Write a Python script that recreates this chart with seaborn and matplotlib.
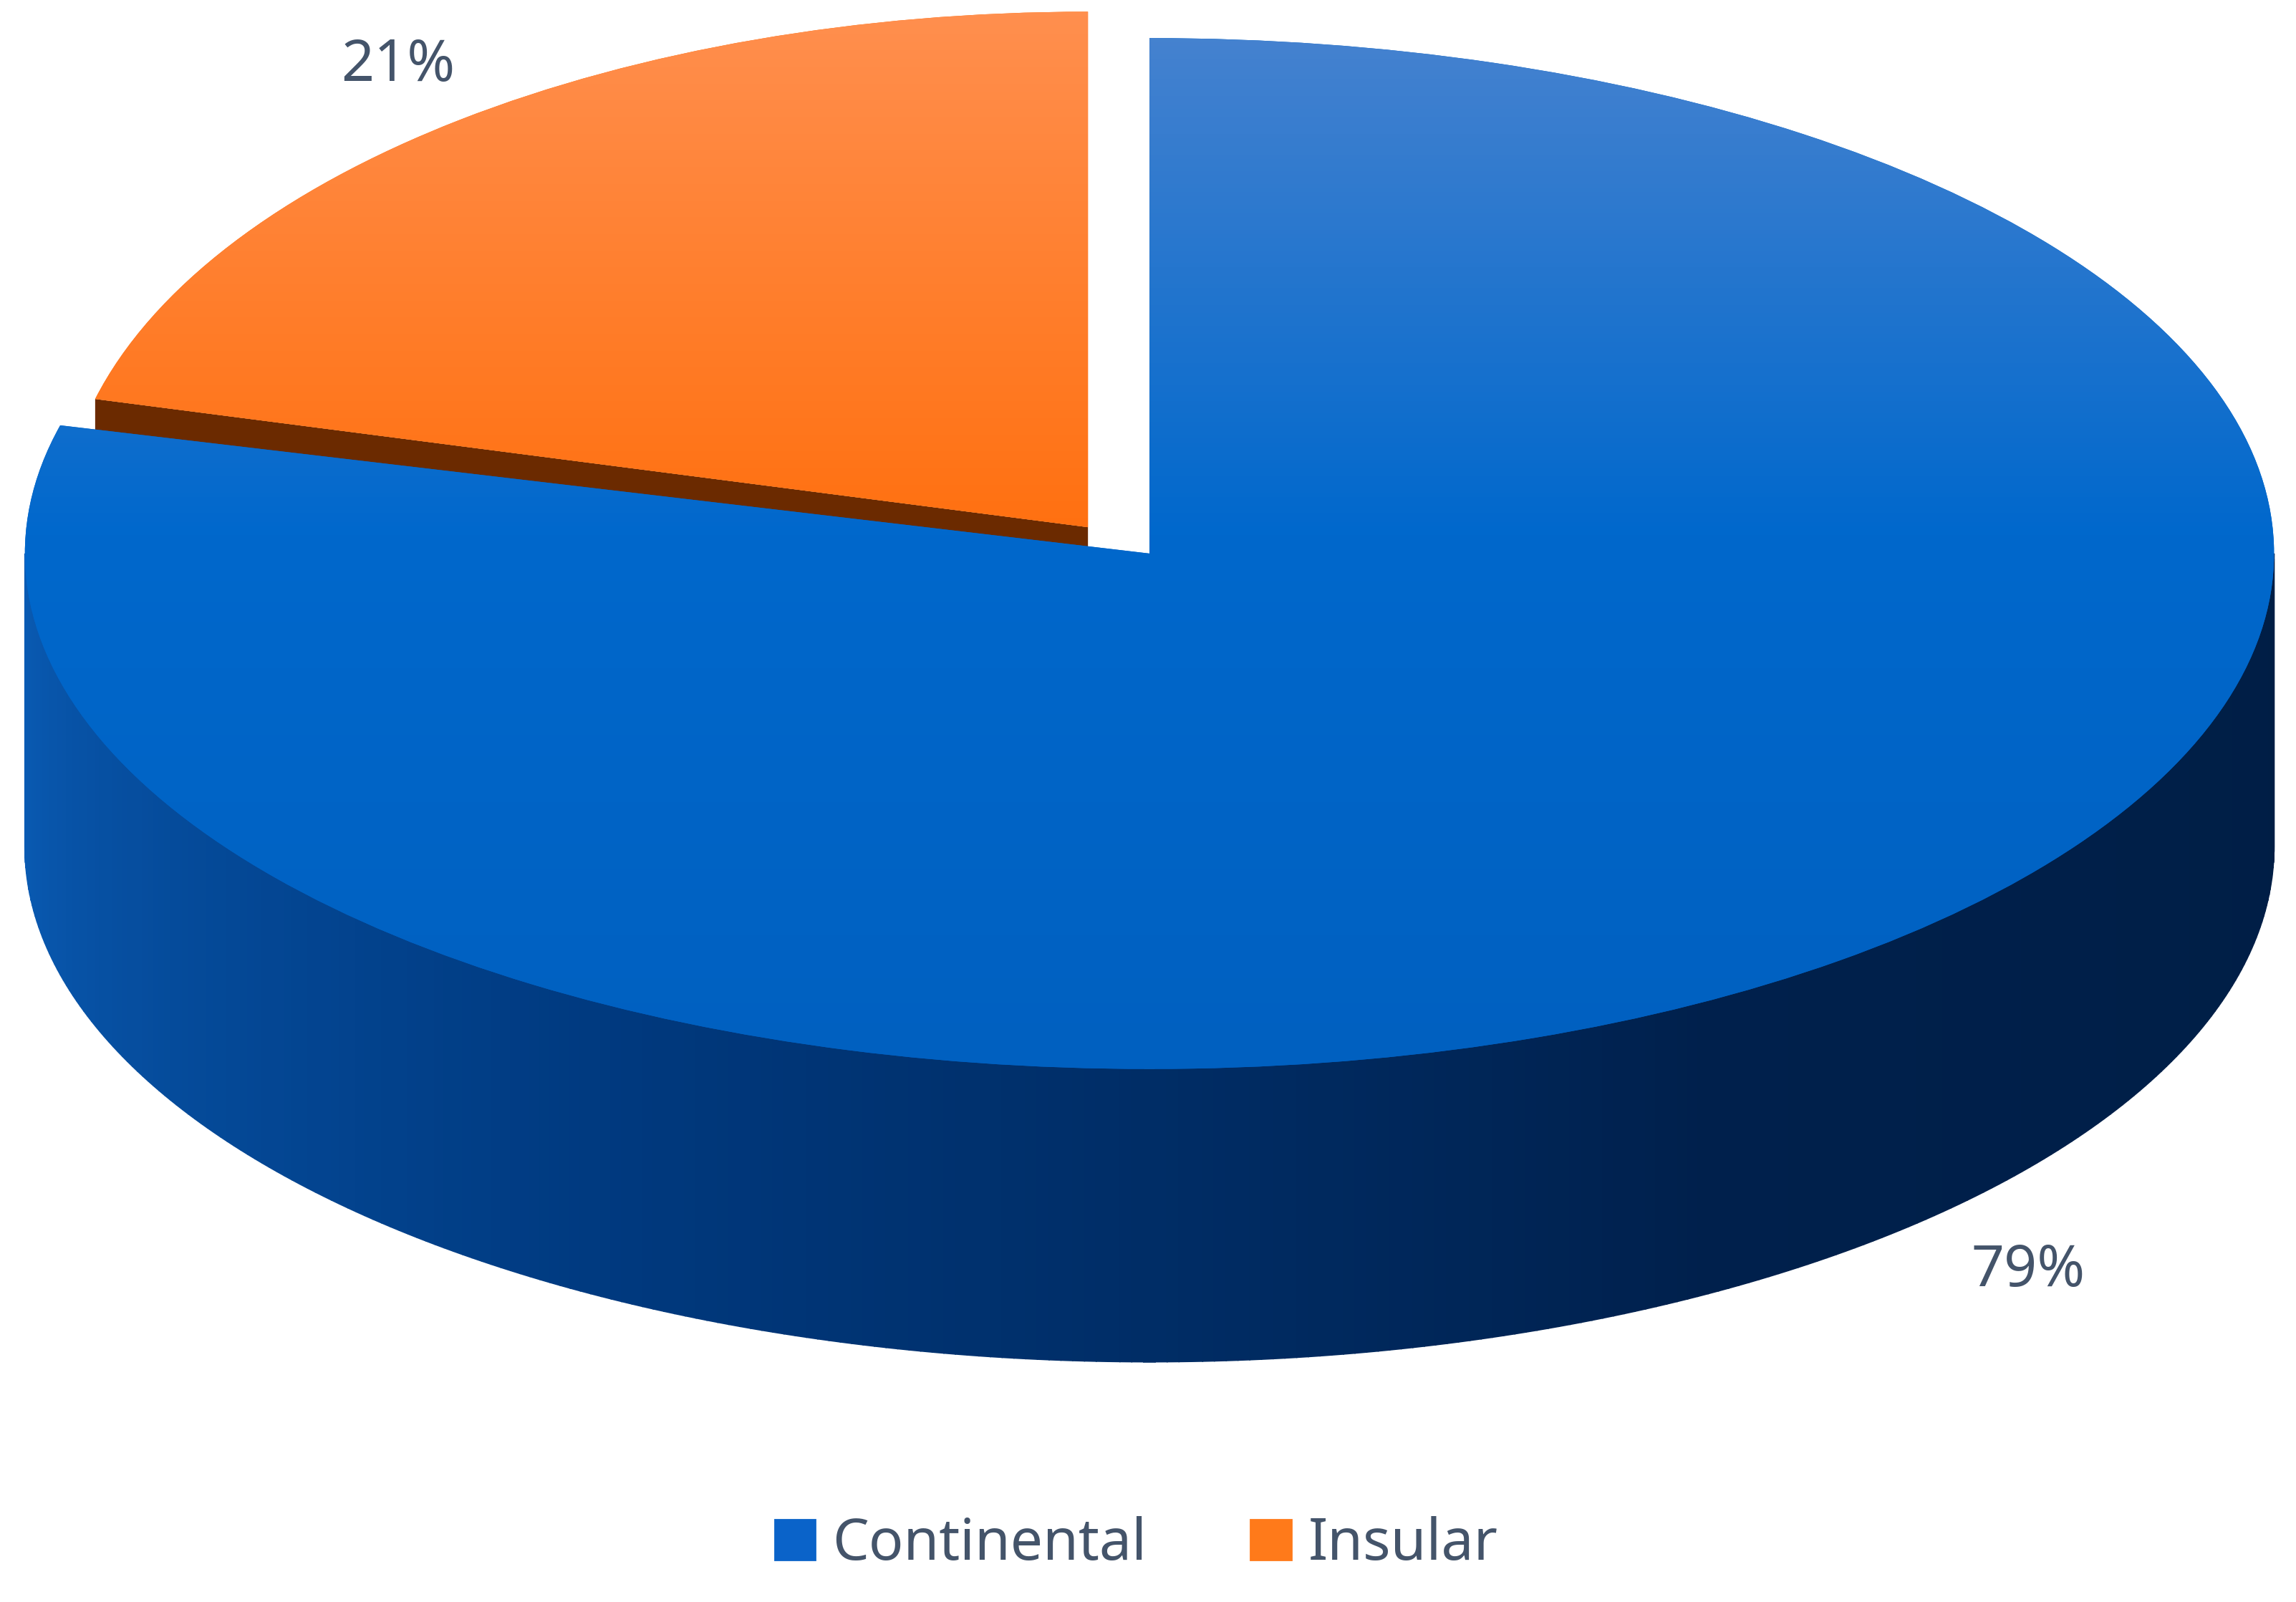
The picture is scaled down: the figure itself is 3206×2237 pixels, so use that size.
import numpy as np
import matplotlib
matplotlib.use("Agg")
import matplotlib.pyplot as plt
import seaborn as sns
from matplotlib.transforms import Affine2D
from matplotlib.patches import Patch, Polygon
from matplotlib.colors import LinearSegmentedColormap

sns.set_theme(style="white")
plt.rcParams['font.family'] = ['Noto Sans', 'DejaVu Sans']

categories = ["Continental", "Insular"]
values = [79, 21]
labels = ["79%", "21%"]

W, H = 1568, 1094
fig = plt.figure(figsize=(16.03, 11.185), dpi=200)
ax = fig.add_axes([0, 0, 1, 1])

cx, cy, rx, ry, depth = 785, H - 378, 768, 352, 200
expl = (-42, 18)
frac = np.array(values) / sum(values)
a_orange_end = 90 + 360 * frac[1]

cmap_side = LinearSegmentedColormap.from_list("s", ["#0a5cb5", "#003a80", "#00204c", "#001e45"])
ts = np.linspace(np.pi, 2 * np.pi, 300)
for i in range(len(ts) - 1):
    t0, t1 = ts[i], ts[i + 1]
    xs = [cx + rx * np.cos(t0), cx + rx * np.cos(t1), cx + rx * np.cos(t1), cx + rx * np.cos(t0)]
    ys = [cy + ry * np.sin(t0), cy + ry * np.sin(t1), cy + ry * np.sin(t1) - depth, cy + ry * np.sin(t0) - depth]
    c = cmap_side(i / (len(ts) - 2))
    ax.add_patch(Polygon(list(zip(xs, ys)), closed=True, fc=c, ec=c, lw=0.6, zorder=1))

ta = np.deg2rad(a_orange_end)
orx = 700
ox, oy = cx + expl[0], cy + expl[1]
p1 = (ox, oy); p2 = (ox + orx * np.cos(ta), oy + ry * np.sin(ta))
ax.add_patch(Polygon([p1, p2, (p2[0], p2[1] - 30), (p1[0], p1[1] - 22)], fc="#6b2a00", ec="none", zorder=1.5))

tr_blue = Affine2D().scale(rx, ry).translate(cx, cy) + ax.transData
tr_or = Affine2D().scale(orx, ry).translate(ox, oy) + ax.transData
wedges, _ = ax.pie(values, startangle=90, counterclock=False, radius=1, center=(0, 0),
                   colors=["#0063c6", "#ff6a00"], wedgeprops=dict(lw=0))
ax.set_aspect("auto"); ax.axis("off")
wedges[0].set_transform(tr_blue); wedges[1].set_transform(tr_or)

grads = [["#0060c0", "#0068cc", "#4a84d0"], ["#ff6600", "#ff7010", "#ff9050"]]
for w, g in zip(wedges, grads):
    w.set_zorder(2)
    cm = LinearSegmentedColormap.from_list("g", g)
    im = ax.imshow(np.linspace(0, 1, 256).reshape(-1, 1), cmap=cm, origin="lower",
                   extent=[0, W, cy - ry, H], aspect="auto", zorder=3)
    im.set_clip_path(w)
ax.set_xlim(0, W); ax.set_ylim(0, H)

tc = "#44546a"
ax.text(272, H - 45, labels[1], color=tc, fontsize=29, ha="center", va="center")
ax.text(1385, H - 868, labels[0], color=tc, fontsize=29, ha="center", va="center")

handles = [Patch(color="#0a63c9", label=categories[0]), Patch(color="#ff7a1a", label=categories[1])]
leg = fig.legend(handles=handles, loc="center", bbox_to_anchor=(0.495, 1 - 1055 / H), ncol=2,
                 frameon=False, fontsize=29, handlelength=0.7, handleheight=0.7,
                 handletextpad=0.3, columnspacing=1.8)
for t in leg.get_texts():
    t.set_color(tc)
fig.savefig("out.png", dpi=200)
